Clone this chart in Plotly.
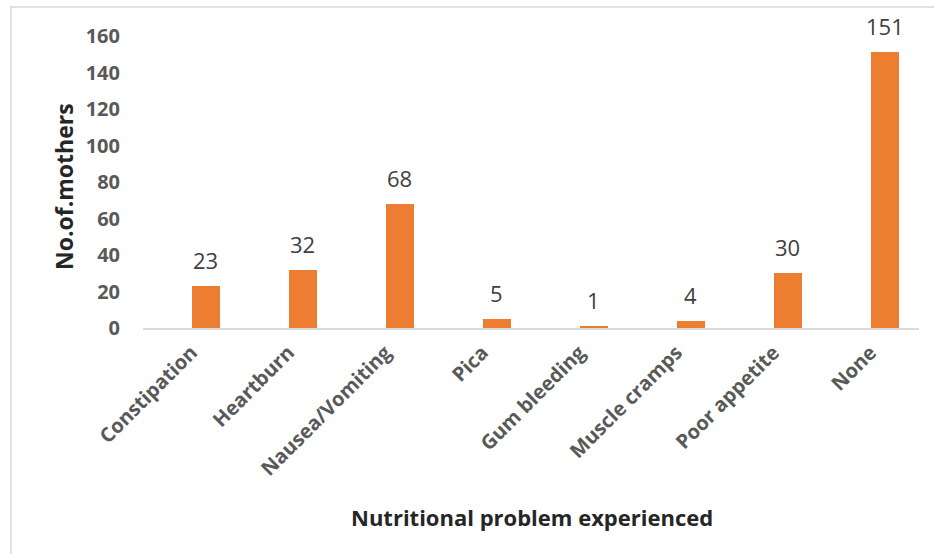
import plotly.graph_objects as go

categories = ["Constipation", "Heartburn", "Nausea/Vomiting", "Pica", "Gum bleeding",
              "Muscle cramps", "Poor appetite", "None"]
values = [23, 32, 68, 5, 1, 4, 30, 151]
y_ticks = [0, 20, 40, 60, 80, 100, 120, 140, 160]

FONT = "Open Sans"
BAR_W = 0.29

fig = go.Figure()
fig.add_trace(go.Bar(
    x=categories, y=values,
    marker=dict(color="#ED7D31", line=dict(width=0)),
    width=BAR_W, offset=0,
    hoverinfo="x+y",
))

annotations = []
for i, v in enumerate(values):
    annotations.append(dict(
        x=i + BAR_W / 2, y=v, xref="x", yref="y", text=str(v), showarrow=False,
        yanchor="bottom", yshift=9,
        font=dict(family=FONT, size=22, color="#404040"),
    ))

annotations += [
    dict(text="No.of.mothers", xref="paper", yref="paper", x=(64 - 143) / 776, y=(328 - 187) / 292,
         xanchor="center", yanchor="middle", textangle=-90, showarrow=False,
         font=dict(family=FONT, size=23, color="#262626", weight="bold")),
    dict(text="Nutritional problem experienced", xref="paper", yref="paper",
         x=(532 - 143) / 776, y=(328 - 517) / 292, xanchor="center", yanchor="middle",
         showarrow=False,
         font=dict(family=FONT, size=22, color="#262626", weight="bold")),
]

fig.update_layout(
    width=934, height=554,
    margin=dict(l=143, r=15, t=36, b=226),
    paper_bgcolor="white", plot_bgcolor="white",
    showlegend=False,
    xaxis=dict(
        type="category", tickangle=-45,
        tickfont=dict(family=FONT, size=20, color="#595959", weight="bold"),
        showline=True, linecolor="#D9D9D9", linewidth=2,
        showgrid=False, ticks="", zeroline=False,
        ticklabelstandoff=3,
    ),
    yaxis=dict(
        range=[0, 160], tickvals=y_ticks,
        tickfont=dict(family=FONT, size=20, color="#595959", weight="bold"),
        showgrid=False, zeroline=False, showline=False, ticks="",
        ticklabelstandoff=22,
    ),
    annotations=annotations,
    shapes=[
        dict(type="rect", xref="paper", yref="paper",
             x0=(11 - 143) / 776, x1=1.1, y0=-1.0, y1=(328 - 7) / 292,
             line=dict(color="#D9D9D9", width=1.5), fillcolor="rgba(0,0,0,0)",
             layer="below"),
    ],
    bargap=0,
)

fig.write_html("out.html")
